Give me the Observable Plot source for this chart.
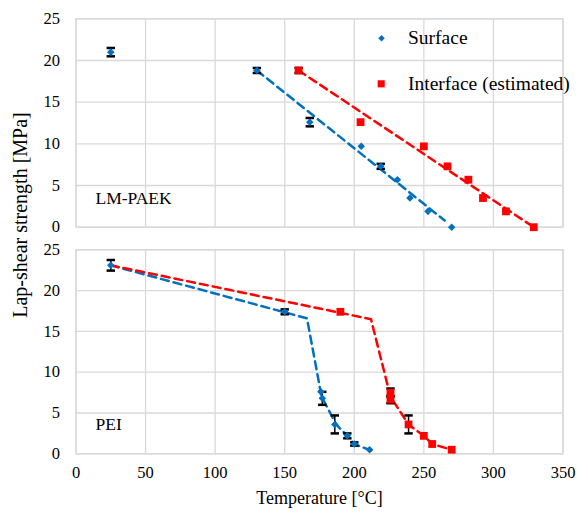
<!DOCTYPE html>
<html>
<head>
<meta charset="utf-8">
<script src="https://cdn.jsdelivr.net/npm/d3@7"></script>
<script src="https://cdn.jsdelivr.net/npm/@observablehq/plot@0.6"></script>
<style>
  body { margin: 0; background: #fff; }
  #wrap { position: relative; width: 578px; height: 513px; font-family: "Liberation Serif", "Times New Roman", serif; color: #000; }
  #top { position: absolute; left: 0; top: 0; }
  #bot { position: absolute; left: 0; top: 235px; }
  #ytitle { position: absolute; left: 20px; top: 215px; transform: translate(-50%, -50%) rotate(-90deg); white-space: nowrap; font-size: 20px; }
  svg text { font-family: "Liberation Serif", "Times New Roman", serif !important; }
</style>
</head>
<body>
<div id="wrap">
  <div id="top"></div>
  <div id="bot"></div>
  <div id="ytitle">Lap-shear strength [MPa]</div>
</div>
<script>
// ---- Data ----
const xTicks = [0, 50, 100, 150, 200, 250, 300, 350];
const yTicks = [0, 5, 10, 15, 20, 25];
const seriesNames = ["Surface", "Interface (estimated)"];
const panelNames = ["LM-PAEK", "PEI"];

// LM-PAEK
const lmSurfT   = [25, 130, 168, 205, 219, 231, 240, 253, 270];
const lmSurfS   = [21.0, 18.8, 12.6, 9.7, 7.3, 5.7, 3.5, 1.9, 0];
const lmSurfErr = [0.5, 0.3, 0.5, 0, 0.3, 0, 0, 0, 0];
const lmIntT    = [160, 204.5, 250, 267, 282, 292.5, 309, 329];
const lmIntS    = [18.8, 12.6, 9.7, 7.3, 5.7, 3.5, 1.9, 0];
const lmIntErr  = [0.3, 0, 0, 0, 0, 0, 0, 0];
const lmSurfFitT = [130, 265];
const lmSurfFitS = [18.8, 0.8];
const lmIntFitT  = [160, 329];
const lmIntFitS  = [18.8, 0];

// PEI
const peiSurfT   = [25, 150, 176, 177, 186, 195, 200, 211];
const peiSurfS   = [23.1, 17.4, 7.6, 6.8, 3.6, 2.2, 1.2, 0.5];
const peiSurfErr = [0.65, 0.3, 0, 0.8, 1.1, 0.3, 0.2, 0];
const peiIntT    = [190, 226, 226, 239, 250, 256, 270];
const peiIntS    = [17.4, 7.5, 6.65, 3.6, 2.2, 1.2, 0.5];
const peiIntErr  = [0, 0.5, 0.45, 1.1, 0, 0, 0];
const peiSurfFitT = [25, 166, 176.5, 187, 195, 200, 212];
const peiSurfFitS = [23.1, 16.6, 7.0, 3.6, 2.2, 1.2, 0.4];
const peiIntFitT  = [25, 212, 226, 239, 250, 256, 270];
const peiIntFitS  = [23.1, 16.5, 7.0, 3.6, 2.2, 1.2, 0.5];

// ---- Helpers ----
const blue = "#0070C0", red = "#FF0000", gridC = "#D9D9D9";
const serif = "Liberation Serif, Times New Roman, serif";
const rows = (T, S, E) => T.map((t, i) => ({t, s: S[i], e: E ? E[i] : 0}));
const capSymbol = {
  draw(ctx, size) { const w = 4.2; ctx.moveTo(-w, 0); ctx.lineTo(w, 0); }
};

function errMarks(data) {
  const d = data.filter(r => r.e > 0);
  const caps = d.flatMap(r => [{t: r.t, v: r.s - r.e}, {t: r.t, v: r.s + r.e}]);
  return [
    Plot.ruleX(d, {x: "t", y1: r => r.s - r.e, y2: r => r.s + r.e, stroke: "#000", strokeWidth: 1.5}),
    Plot.dot(caps, {x: "t", y: "v", symbol: capSymbol, r: 3, fill: "none", stroke: "#000", strokeWidth: 2.5})
  ];
}

function panel({surf, intf, surfFit, intFit, label, labelDy, showX, height, marginTop, marginBottom, legend}) {
  const marks = [
    Plot.gridX(xTicks, {stroke: gridC, strokeOpacity: 1, strokeWidth: 1.3}),
    Plot.gridY(yTicks, {stroke: gridC, strokeOpacity: 1, strokeWidth: 1.3}),
    Plot.frame({stroke: gridC, strokeWidth: 1.3}),
    Plot.text(yTicks, {y: d => d, frameAnchor: "left", dx: -16, textAnchor: "end", lineAnchor: "middle", text: d => String(d), fontSize: 16.5, fontFamily: serif}),
    Plot.line(surfFit, {x: "t", y: "s", stroke: blue, strokeWidth: 2.5, strokeDasharray: "8,5"}),
    Plot.line(intFit, {x: "t", y: "s", stroke: red, strokeWidth: 2.5, strokeDasharray: "8,5"}),
    ...errMarks(surf),
    ...errMarks(intf),
    Plot.dot(surf, {x: "t", y: "s", symbol: "diamond2", r: 3.4, fill: blue}),
    Plot.dot(intf, {x: "t", y: "s", symbol: "square", r: 4.4, fill: red}),
    Plot.text([label], {frameAnchor: "bottom-left", dx: 19.5, dy: labelDy, text: d => d, textAnchor: "start", fontSize: 17.5, fontFamily: serif, lineAnchor: "middle"})
  ];
  if (showX) {
    marks.push(Plot.text(xTicks, {x: d => d, frameAnchor: "bottom", dy: 19, lineAnchor: "middle", text: d => String(d), fontSize: 16.5, fontFamily: serif}));
    marks.push(Plot.text(["Temperature [°C]"], {frameAnchor: "bottom", dy: 44, text: d => d, fontSize: 18, fontFamily: serif, lineAnchor: "middle"}));
  }
  if (legend) {
    marks.push(Plot.dot([0], {frameAnchor: "top-left", dx: 305.5, dy: 19.4, symbol: "diamond2", r: 2.9, fill: blue}));
    marks.push(Plot.dot([0], {frameAnchor: "top-left", dx: 305.2, dy: 65, symbol: "square", r: 4.0, fill: red}));
    marks.push(Plot.text([seriesNames[0]], {frameAnchor: "top-left", dx: 332, dy: 19.4, text: d => d, textAnchor: "start", lineAnchor: "middle", fontSize: 19.5, fontFamily: serif}));
    marks.push(Plot.text([seriesNames[1]], {frameAnchor: "top-left", dx: 332, dy: 65, text: d => d, textAnchor: "start", lineAnchor: "middle", fontSize: 19.5, fontFamily: serif}));
  }
  return Plot.plot({
    width: 578,
    height,
    marginLeft: 75.5,
    marginRight: 15.5,
    marginTop,
    marginBottom,
    style: {fontFamily: serif, fontSize: "16px", color: "#000", background: "transparent", overflow: "visible"},
    x: {domain: [0, 350], axis: null},
    y: {domain: [0, 25], axis: null},
    marks
  });
}

document.getElementById("top").append(panel({
  surf: rows(lmSurfT, lmSurfS, lmSurfErr),
  intf: rows(lmIntT, lmIntS, lmIntErr),
  surfFit: rows(lmSurfFitT, lmSurfFitS),
  intFit: rows(lmIntFitT, lmIntFitS),
  label: panelNames[0], labelDy: -29,
  showX: false, height: 235, marginTop: 18.3, marginBottom: 8.3, legend: true
}));

document.getElementById("bot").append(panel({
  surf: rows(peiSurfT, peiSurfS, peiSurfErr),
  intf: rows(peiIntT, peiIntS, peiIntErr),
  surfFit: rows(peiSurfFitT, peiSurfFitS),
  intFit: rows(peiIntFitT, peiIntFitS),
  label: panelNames[1], labelDy: -29.3,
  showX: true, height: 278, marginTop: 14.3, marginBottom: 59.7, legend: false
}));
</script>
</body>
</html>
